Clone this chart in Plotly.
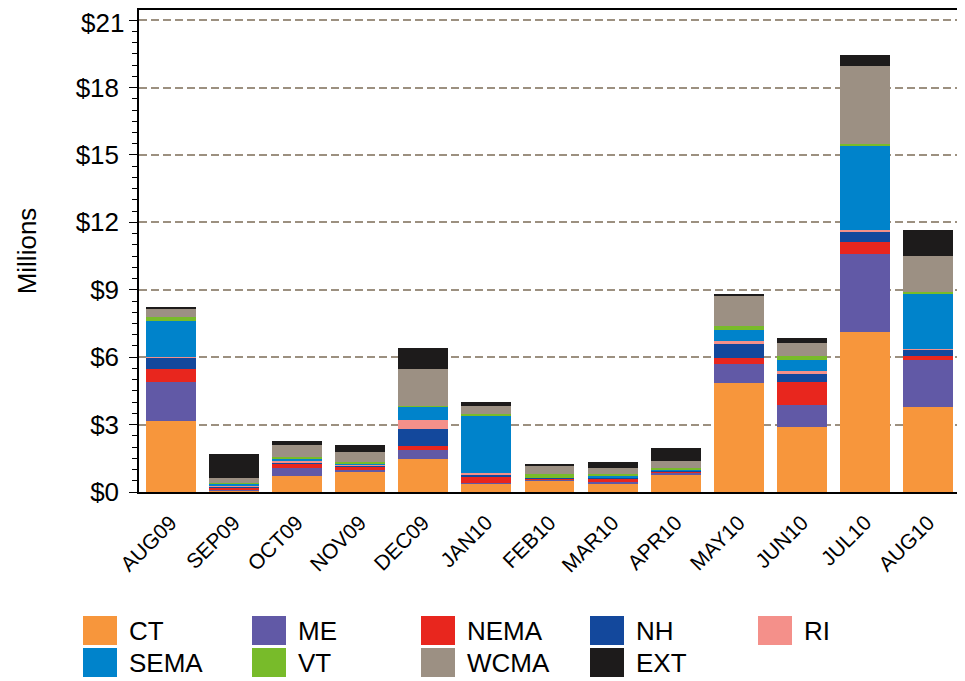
import plotly.graph_objects as go

months = ["AUG09", "SEP09", "OCT09", "NOV09", "DEC09", "JAN10", "FEB10",
          "MAR10", "APR10", "MAY10", "JUN10", "JUL10", "AUG10"]

# values in $ millions (bottom to top)
ct   = [3.16, 0.03, 0.73, 0.89, 1.47, 0.40, 0.50, 0.40, 0.80, 4.85, 2.89, 7.13, 3.78]
me   = [1.75, 0.10, 0.35, 0.09, 0.40, 0.02, 0.02, 0.04, 0.05, 0.85, 0.98, 3.46, 2.09]
nema = [0.56, 0.08, 0.18, 0.16, 0.18, 0.24, 0.10, 0.16, 0.06, 0.26, 1.03, 0.54, 0.18]
nh   = [0.50, 0.05, 0.07, 0.04, 0.75, 0.14, 0.01, 0.03, 0.04, 0.63, 0.35, 0.44, 0.27]
ri   = [0.03, 0.05, 0.08, 0.04, 0.40, 0.06, 0.01, 0.03, 0.02, 0.13, 0.13, 0.09, 0.04]
sema = [1.60, 0.05, 0.08, 0.06, 0.60, 2.52, 0.00, 0.04, 0.01, 0.49, 0.49, 3.72, 2.45]
vt   = [0.17, 0.06, 0.08, 0.06, 0.03, 0.09, 0.16, 0.10, 0.09, 0.18, 0.18, 0.09, 0.09]
wcma = [0.36, 0.20, 0.52, 0.42, 1.64, 0.36, 0.34, 0.27, 0.32, 1.33, 0.58, 3.49, 1.60]
ext  = [0.09, 1.07, 0.17, 0.31, 0.94, 0.17, 0.11, 0.27, 0.57, 0.09, 0.22, 0.49, 1.16]

y_ticks = [0, 3, 6, 9, 12, 15, 18, 21]
y_labels = ["$" + str(v) for v in y_ticks]

series = [
    ("CT", ct, "#F7963C"),
    ("ME", me, "#6159A6"),
    ("NEMA", nema, "#E8261E"),
    ("NH", nh, "#13489C"),
    ("RI", ri, "#F4908A"),
    ("SEMA", sema, "#0083CB"),
    ("VT", vt, "#78BB2A"),
    ("WCMA", wcma, "#9C9083"),
    ("EXT", ext, "#1D1B1B"),
]

# page has an 8px body margin, so the figure is drawn 8px smaller and offset
W, H = 957, 673
L, R, T, B = 131, 5, 2, 189
PW, PH = W - L - R, H - T - B


def px(x):
    return (x - 8 - L) / PW


def py(y):
    return (H - B - (y - 8)) / PH


fig = go.Figure()
for name, vals, col in series:
    fig.add_trace(go.Bar(x=months, y=vals, name=name, marker_color=col,
                         marker_line_width=0, showlegend=False))

# legend drawn by hand: 5 columns, 2 rows, big square swatches
col_x = [83, 252, 421, 590, 758]
row_y = [616, 648]
for i, (name, vals, col) in enumerate(series):
    cx = col_x[i % 5]
    ry = row_y[i // 5]
    fig.add_shape(type="rect", xref="paper", yref="paper",
                  x0=px(cx), x1=px(cx + 34), y0=py(ry + 29), y1=py(ry),
                  fillcolor=col, line_width=0)
    fig.add_annotation(text=name, xref="paper", yref="paper",
                       x=px(cx + 44), y=py(ry + 15),
                       xanchor="left", yanchor="middle", showarrow=False,
                       font=dict(size=26, color="black"))

# the top tick label sits too close to the page edge for plotly to keep it,
# so it is written as an annotation at the same spot
tick_text = list(y_labels)
tick_text[-1] = ""
fig.add_annotation(text=y_labels[-1], xref="paper", yref="y", x=0, y=y_ticks[-1],
                   xanchor="right", yanchor="middle", xshift=-14, yshift=-3,
                   showarrow=False, borderpad=0,
                   font=dict(size=26, color="black"))

fig.update_layout(
    barmode="stack",
    bargap=0.21,
    width=W, height=H,
    margin=dict(l=L, r=R, t=T, b=B),
    plot_bgcolor="white",
    paper_bgcolor="white",
    font=dict(family="Liberation Sans, Arial, sans-serif", color="black"),
)
fig.update_yaxes(
    range=[0, 21.45], tickvals=y_ticks, ticktext=tick_text,
    tickfont=dict(size=26), ticks="outside", ticklen=8, tickcolor="black",
    ticklabelstandoff=5,
    minor=dict(dtick=0.5, ticks="outside", ticklen=5, tickcolor="black", showgrid=False),
    showgrid=True, gridcolor="#9c9080", griddash="8px,4px", gridwidth=1.5,
    showline=True, linecolor="black", linewidth=1.5, mirror=True,
    title=dict(text="Millions", font=dict(size=26), standoff=32),
    zeroline=False, automargin=False,
)
fig.update_xaxes(
    tickangle=-45, tickfont=dict(size=21), ticklabelstandoff=8,
    showline=True, linecolor="black", linewidth=2, mirror=True,
    showgrid=False, automargin=False,
)

fig.write_html("out.html")
